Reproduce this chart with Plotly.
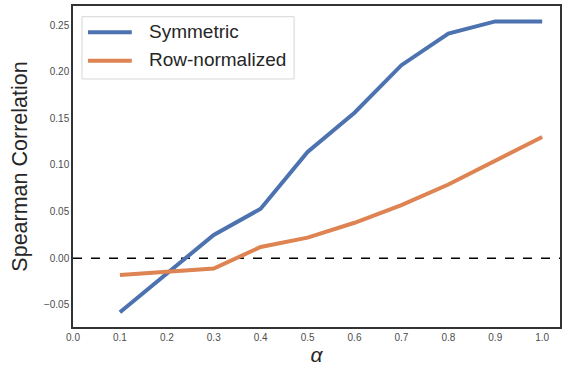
import plotly.graph_objects as go

# Spearman correlation against the mixing parameter alpha
alpha = [0.1, 0.2, 0.3, 0.4, 0.5, 0.6, 0.7, 0.8, 0.9, 1.0]
symmetric = [-0.058, -0.016, 0.025, 0.053, 0.114, 0.156, 0.207, 0.241, 0.254, 0.254]
row_normalized = [-0.018, -0.015, -0.011, 0.012, 0.022, 0.038, 0.057, 0.079, 0.104, 0.130]
series_names = ["Symmetric", "Row-normalized"]
series_colors = ["#4C72B0", "#DD8452"]

x_ticks = [0.0, 0.1, 0.2, 0.3, 0.4, 0.5, 0.6, 0.7, 0.8, 0.9, 1.0]
x_tick_text = [f"{v:.1f}" for v in x_ticks]
y_ticks = [-0.05, 0.0, 0.05, 0.10, 0.15, 0.20, 0.25]
y_tick_text = ["\u22120.05", "0.00", "0.05", "0.10", "0.15", "0.20", "0.25"]

FONT = "Liberation Sans, Arial, sans-serif"

fig = go.Figure()
for name, values, color in zip(series_names, [symmetric, row_normalized], series_colors):
    fig.add_trace(go.Scatter(x=alpha, y=values, mode="lines", name=name,
                             line=dict(color=color, width=4), showlegend=False))

# reference line at zero
fig.add_shape(type="line", xref="paper", yref="y", x0=0, x1=1, y0=0, y1=0,
              line=dict(color="black", width=1.5, dash="dash"), layer="below")

# legend box drawn in paper coordinates (longer line samples than the built-in legend)
fig.add_shape(type="rect", xref="paper", yref="paper", x0=0.0184, x1=0.454,
              y0=0.7726, y1=0.9667, line=dict(color="#d6d6d6", width=1),
              fillcolor="rgba(255,255,255,0.8)", layer="above")
legend_rows = [0.918, 0.8296]
for name, color, ly in zip(series_names, series_colors, legend_rows):
    fig.add_shape(type="line", xref="paper", yref="paper", x0=0.0307, x1=0.1207,
                  y0=ly, y1=ly, line=dict(color=color, width=4), layer="above")
    fig.add_annotation(xref="paper", yref="paper", x=0.1513, y=ly + 0.004, text=name,
                       showarrow=False, xanchor="left", yanchor="middle",
                       font=dict(size=19, color="#262626", family=FONT))

fig.update_layout(
    width=562, height=368,
    margin=dict(l=73, r=0, t=6, b=41),
    paper_bgcolor="white", plot_bgcolor="white",
    font=dict(family=FONT, color="#262626"),
    showlegend=False,
    xaxis=dict(range=[0, 1.038], tickvals=x_ticks, ticktext=x_tick_text,
               showgrid=False, zeroline=False, ticks="",
               tickfont=dict(size=10, color="#4d4d4d"),
               showline=True, linecolor="#333333", linewidth=1.5, mirror=True,
               title=dict(text="<i>α</i>", font=dict(size=21, color="#262626"), standoff=6)),
    yaxis=dict(range=[-0.0738, 0.2705], tickvals=y_ticks, ticktext=y_tick_text,
               showgrid=False, zeroline=False, ticks="",
               tickfont=dict(size=10, color="#4d4d4d"),
               showline=True, linecolor="#333333", linewidth=1.5, mirror=True,
               title=dict(text="Spearman Correlation", font=dict(size=21.5, color="#262626"), standoff=10)),
)

fig.write_html("out.html")
